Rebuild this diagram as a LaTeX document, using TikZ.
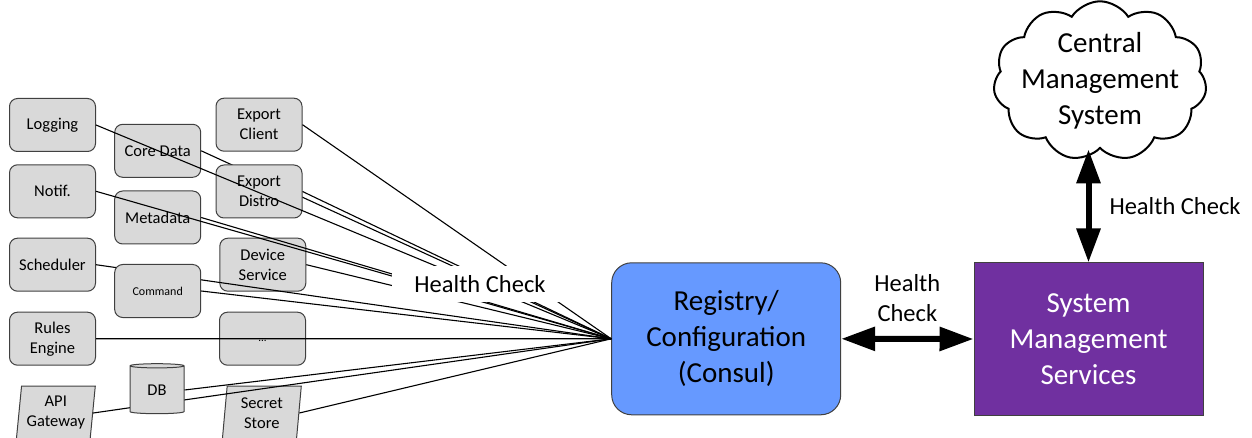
\documentclass[tikz,border=0pt]{standalone}
\usepackage{fontspec}
\setmainfont{Carlito}
\usetikzlibrary{arrows.meta, shapes.geometric, shapes.symbols}

\definecolor{boxgrey}{HTML}{D9D9D9}
\definecolor{boxline}{HTML}{404040}
\definecolor{regblue}{HTML}{6699FF}
\definecolor{smspurple}{HTML}{7030A0}

\tikzset{
	svcbox/.style = {draw = boxline, fill = boxgrey, line width = 1pt, rounded corners = 8pt,
		minimum width = 86pt, minimum height = 53pt, inner sep = 0pt, align = center,
		font = \fontsize{16.5}{20}\selectfont},
	dbcyl/.style = {draw = boxline, fill = boxgrey, line width = 1pt, cylinder, shape border rotate = 90,
		aspect = 0.22, minimum width = 54pt, minimum height = 50pt, inner sep = 0pt,
		font = \fontsize{16.5}{20}\selectfont},
	slanted/.style = {draw = boxline, fill = boxgrey, line width = 1pt, trapezium,
		trapezium left angle = 81, trapezium right angle = 99, trapezium stretches body,
		minimum width = 79pt, minimum height = 54pt, inner sep = 0pt, align = center,
		font = \fontsize{16.5}{20}\selectfont},
	bigbox/.style = {draw = boxline, line width = 1pt, minimum width = 229pt, minimum height = 152pt,
		inner sep = 0pt, align = center, font = \fontsize{29}{36}\selectfont},
	hclabel/.style = {inner sep = 0pt, align = center, font = \fontsize{24.5}{30}\selectfont},
	bigarrow/.style = {line width = 6pt,
		{Triangle[length = 34pt, width = 23pt]}-{Triangle[length = 34pt, width = 23pt]}}
}

\begin{document}
\begin{tikzpicture}[x = 1pt, y = -1pt]
			\def\xMAX{1252}
			\def\yMAX{438}

			\useasboundingbox (0,0) rectangle (\xMAX,\yMAX);

			% micro services
			\node [svcbox] (logging) at (52.5,125) {Logging};
			\node [svcbox] (coredata) at (157.7,150.8) {Core Data};
			\node [svcbox] (expclient) at (259,124.7) {Export\\Client};
			\node [svcbox] (notif) at (52.5,191.3) {Notif.};
			\node [svcbox] (metadata) at (157.7,217.5) {Metadata};
			\node [svcbox] (scheduler) at (52.5,264.7) {Scheduler};
			\node [svcbox] (devservice) at (262.8,264.7) {Device\\Service};
			\node [svcbox] (rules) at (52.5,338.7) {Rules\\Engine};
			\node [svcbox, font = \fontsize{11}{13}\selectfont] (dots) at (262.5,338.7) {\raisebox{-5pt}{...}};
			\node [slanted] (apigw) at (55.8,413) {API\\Gateway};
			\node [slanted] (secret) at (261.8,413) {Secret\\Store};

			\node [bigbox, fill = regblue, rounded corners = 20pt] (reg) at (726.2,338.8) {Registry/\\Configuration\\(Consul)};
			\node [bigbox, fill = smspurple, text = white] (sms) at (1088.5,339) {System\\Management\\Services};
			\node [draw, line width = 2pt, cloud, cloud puffs = 11, cloud puff arc = 115, aspect = 1.5,
				minimum width = 206pt, minimum height = 134pt, inner sep = -8pt, align = center,
				font = \fontsize{29}{36}\selectfont] (cms) at (1100,81) {Central\\Management\\System};

			% checks that run under the next boxes
			\begin{scope}[line width = 1.1pt]
				\draw (coredata.east) -- (reg.west);
				\draw (scheduler.east) -- (reg.west);
				\draw (apigw.east) -- (reg.west);
			\end{scope}

			\node [svcbox] (expdistro) at (259,191.5) {Export\\Distro};
			\node [svcbox, font = \fontsize{12}{14}\selectfont] (command) at (157.7,291) {Command};
			\node [dbcyl] (db) at (157,390) {DB};

			\begin{scope}[line width = 1.1pt]
				\draw (logging.east) -- (reg.west);
				\draw (expclient.east) -- (reg.west);
				\draw (expdistro.east) -- (reg.west);
				\draw (notif.east) -- (reg.west);
				\draw (metadata.east) -- (reg.west);
				\draw (devservice.east) -- (reg.west);
				\draw (command.east) -- (reg.west);
				\draw (rules.east) -- (reg.west);
				\draw (db.east) -- (reg.west);
				\draw (secret.east) -- (reg.west);
			\end{scope}

			\node [hclabel, fill = white, inner xsep = 22pt, inner ysep = 9pt] (hcall) at (480,284) {Health Check};

			% management links
			\draw [bigarrow] (reg.east) -- (sms.west)
				node [hclabel, midway, yshift = 41pt] (hcreg) {Health\\Check};
			\draw [bigarrow] (sms.north |- cms.south) -- (sms.north)
				node [hclabel, midway, anchor = west, xshift = 18pt] (hccms) {Health Check};
		\end{tikzpicture}
\end{document}
